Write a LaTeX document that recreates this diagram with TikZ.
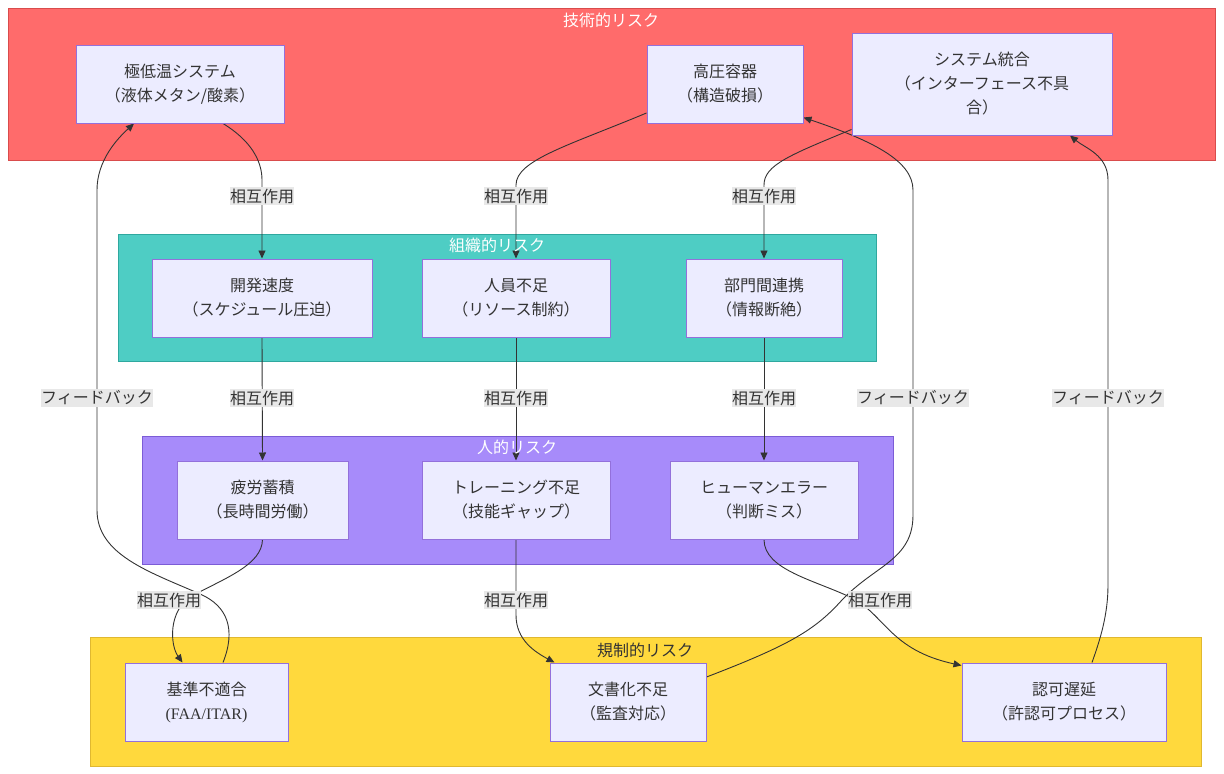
\documentclass[tikz,border=0pt]{standalone}
\usepackage{fontspec}
\setmainfont{Noto Sans CJK JP}
\newfontfamily\latinserif{Liberation Serif}
\usetikzlibrary{arrows.meta}
\definecolor{techfill}{HTML}{FF6B6B}
\definecolor{techline}{HTML}{D94C4C}
\definecolor{orgfill}{HTML}{4ECDC4}
\definecolor{orgline}{HTML}{2FA89F}
\definecolor{humfill}{HTML}{A78BFA}
\definecolor{humline}{HTML}{7C5CD6}
\definecolor{regfill}{HTML}{FFD93D}
\definecolor{regline}{HTML}{E0B830}
\definecolor{boxfill}{HTML}{ECECFF}
\definecolor{boxline}{HTML}{9370DB}
\definecolor{ink}{HTML}{333333}
\definecolor{labfill}{HTML}{E8E8E8}
\pgfdeclarelayer{bg}
\pgfdeclarelayer{edges}
\pgfsetlayers{bg,edges,main}
\begin{document}
\begin{tikzpicture}[x=1pt,y=-1pt,
  every node/.style={font=\fontsize{16}{24}\selectfont},
  risk/.style={draw=boxline, fill=boxfill, line width=1pt, align=center, text=ink, inner sep=0pt, minimum height=78pt},
  cluster/.style={draw=#1line, fill=#1fill, line width=1pt, inner sep=0pt},
  ctitle/.style={text=white, inner sep=0pt},
  lab/.style={fill=labfill, text=ink, inner xsep=0pt, inner ysep=2pt},
  link/.style={draw=ink, line width=0.9pt, -{Triangle[length=8pt,width=7pt]}}]
\useasboundingbox (0,0) rectangle (1224,774);
\begin{pgfonlayer}{bg}
  \fill[white] (0,0) rectangle (1224,774);
  \node[cluster=tech, minimum width=1207pt, minimum height=152pt] (tech) at (611.5,84) {};
  \node[cluster=org, minimum width=758pt, minimum height=127pt] (org) at (497,297.5) {};
  \node[cluster=hum, minimum width=751pt, minimum height=128pt] (hum) at (517.5,500) {};
  \node[cluster=reg, minimum width=1111pt, minimum height=129pt] (reg) at (645.5,701.5) {};
\end{pgfonlayer}
% cluster titles
\node[ctitle] (techT) at (611,20) {技術的リスク};
\node[ctitle] (orgT) at (497,245) {組織的リスク};
\node[ctitle] (humT) at (517,447) {人的リスク};
\node[ctitle, text=ink] (regT) at (645,650) {規制的リスク};
% risk nodes
\node[risk, minimum width=208pt] (cryo) at (180,84) {極低温システム\\（液体メタン/酸素）};
\node[risk, minimum width=156pt] (press) at (725,84) {高圧容器\\（構造破損）};
\node[risk, minimum width=260pt, minimum height=102pt] (sys) at (982,84) {システム統合\\（インターフェース不具\\合）};
\node[risk, minimum width=220pt] (dev) at (262,298) {開発速度\\（スケジュール圧迫）};
\node[risk, minimum width=188pt] (staff) at (516,298) {人員不足\\（リソース制約）};
\node[risk, minimum width=156pt] (dept) at (764,298) {部門間連携\\（情報断絶）};
\node[risk, minimum width=171pt] (fatigue) at (262.5,500) {疲労蓄積\\（長時間労働）};
\node[risk, minimum width=188pt] (train) at (516,500) {トレーニング不足\\（技能ギャップ）};
\node[risk, minimum width=188pt] (error) at (764,500) {ヒューマンエラー\\（判断ミス）};
\node[risk, minimum width=163pt] (std) at (206.5,702) {基準不適合\\{\latinserif (FAA/ITAR)}};
\node[risk, minimum width=156pt] (doc) at (628,702) {文書化不足\\（監査対応）};
\node[risk, minimum width=204pt] (auth) at (1064,702) {認可遅延\\（許認可プロセス）};
% edge labels
\node[lab] (i1) at (262,196) {相互作用};
\node[lab] (i2) at (516,196) {相互作用};
\node[lab] (i3) at (764,196) {相互作用};
\node[lab] (i4) at (262,398) {相互作用};
\node[lab] (i5) at (516,398) {相互作用};
\node[lab] (i6) at (764,398) {相互作用};
\node[lab] (i7) at (169,600) {相互作用};
\node[lab] (i8) at (516,600) {相互作用};
\node[lab] (i9) at (880,600) {相互作用};
\node[lab] (f1) at (97,398) {フィードバック};
\node[lab] (f2) at (913,398) {フィードバック};
\node[lab] (f3) at (1108,398) {フィードバック};
% connectors
\begin{pgfonlayer}{edges}
  \draw[link] ([xshift=43pt]cryo.south) .. controls (250,140) and (262,160) .. (262,180) -- (dev.north);
  \draw[link] ([yshift=-29pt]press.west) .. controls (570,145) and (516,160) .. (516,185) -- (staff.north);
  \draw[link] ([yshift=6pt]sys.south west) .. controls (790,155) and (764,165) .. (764,185) -- (dept.north);
  \draw[link] (dev.south) -- (fatigue.north);
  \draw[link] (staff.south) -- (train.north);
  \draw[link] (dept.south) -- (error.north);
  \draw[link] (fatigue.south) .. controls (262,565) and (225,578) .. (192,596) .. controls (168,610) and (170,645) .. ([xshift=-24pt]std.north);
  \draw[link] (train.south) -- (516,615) .. controls (516,640) and (535,652) .. ([xshift=5pt]doc.north west);
  \draw[link] (error.south) .. controls (764,570) and (815,580) .. (852,598) .. controls (885,615) and (890,650) .. ([yshift=-3pt]auth.north west);
  \draw[link] ([xshift=16.5pt]std.north) .. controls (236,630) and (228,606) .. (200,594) .. controls (150,572) and (97,555) .. (97,510) -- (97,190) .. controls (97,160) and (118,138) .. ([xshift=-46pt]cryo.south);
  \draw[link] ([yshift=25pt]doc.east) .. controls (790,645) and (815,630) .. (842,600) .. controls (875,565) and (913,560) .. (913,515) -- (913,190) .. controls (913,160) and (870,140) .. ([yshift=6pt]press.south east);
  \draw[link] ([xshift=28pt]auth.north) .. controls (1100,640) and (1108,615) .. (1108,585) -- (1108,180) .. controls (1108,155) and (1085,148) .. ([xshift=88pt]sys.south);
\end{pgfonlayer}
\end{tikzpicture}
\end{document}
